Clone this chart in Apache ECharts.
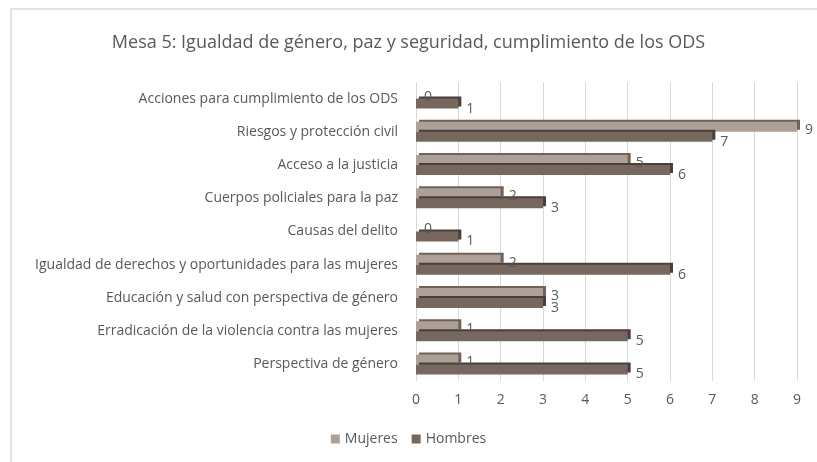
<!DOCTYPE html>
<html lang='es'>
  <head>
    <meta charset='utf-8'>
    <title>Mesa 5</title>
    <style>
      html, body { margin: 0; padding: 0; background: #fff; }
    </style>
  </head>
  <body>
    <div id="main" style="width:817px;height:462px;"></div>

    <script src="https://cdn.jsdelivr.net/npm/echarts@6/dist/echarts.min.js"></script>
    <script>
      // categorias de arriba hacia abajo
      var categorias = [
        'Acciones para cumplimiento de los ODS',
        'Riesgos y protección civil',
        'Acceso a la justicia',
        'Cuerpos policiales para la paz',
        'Causas del delito',
        'Igualdad de derechos y oportunidades para las mujeres',
        'Educación y salud con perspectiva de género',
        'Erradicación de la violencia contra las mujeres',
        'Perspectiva de género'
      ];
      var mujeres = [0, 9, 5, 2, 0, 2, 3, 1, 1];
      var hombres = [1, 7, 6, 3, 1, 6, 3, 5, 5];

      var txt = '#595959';
      var fuente = '"Open Sans", sans-serif';

      var myChart = echarts.init(document.getElementById('main'));

      function serie(nombre, datos, color, sombra, offY) {
        return {
          name: nombre,
          type: 'bar',
          data: datos,
          barWidth: 10,
          barGap: '0%',
          itemStyle: {
            color: color,
            shadowColor: sombra,
            shadowOffsetX: 3,
            shadowOffsetY: -2,
            shadowBlur: 0
          },
          label: {
            show: true,
            position: 'right',
            distance: 8,
            offset: [0, offY],
            color: txt,
            fontSize: 14,
            fontFamily: fuente
          }
        };
      }

      var option = {
        backgroundColor: '#fff',
        animation: false,
        title: {
          text: 'Mesa 5: Igualdad de género, paz y seguridad, cumplimiento de los ODS',
          left: 'center',
          top: 29,
          textStyle: { color: txt, fontSize: 18, fontWeight: 'normal', fontFamily: fuente }
        },
        legend: {
          data: ['Mujeres', 'Hombres'],
          bottom: 11,
          left: 'center',
          itemWidth: 9,
          itemHeight: 9,
          itemGap: 14,
          icon: 'rect',
          textStyle: { color: txt, fontSize: 14, fontFamily: fuente }
        },
        grid: { left: 416, right: 20, top: 82, bottom: 81, containLabel: false },
        graphic: [{
          type: 'rect',
          shape: { x: 11, y: 9, width: 820, height: 470 },
          style: { fill: 'none', stroke: '#d9d9d9', lineWidth: 1.5 },
          silent: true,
          z: -1
        }],
        xAxis: {
          type: 'value',
          min: 0,
          max: 9,
          interval: 1,
          axisLine: { show: false },
          axisTick: { show: false },
          axisLabel: { color: txt, fontSize: 14, fontFamily: fuente, margin: 12 },
          splitLine: { lineStyle: { color: '#d9d9d9' } }
        },
        yAxis: {
          type: 'category',
          data: categorias,
          inverse: true,
          axisLine: { show: false },
          axisTick: { show: false },
          axisLabel: { color: txt, fontSize: 14, fontFamily: fuente, margin: 18 }
        },
        series: [
          serie('Mujeres', mujeres, '#ada097', '#6f625b', 3),
          serie('Hombres', hombres, '#76675f', '#4a3f3a', 5)
        ]
      };

      myChart.setOption(option);
    </script>
  </body>
</html>
